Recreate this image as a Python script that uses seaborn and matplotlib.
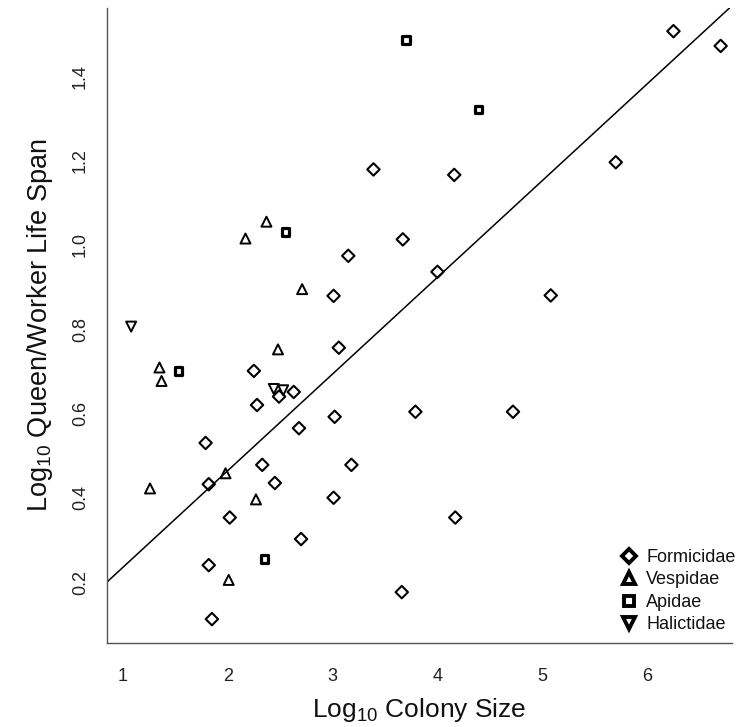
import matplotlib
matplotlib.use("Agg")
import matplotlib.pyplot as plt
from matplotlib.lines import Line2D
import seaborn as sns
import pandas as pd

sns.set_theme(style="white")
plt.rcParams["font.family"] = ["Liberation Sans", "DejaVu Sans"]
plt.rcParams["mathtext.fontset"] = "custom"
plt.rcParams["mathtext.rm"] = "Liberation Sans"
plt.rcParams["mathtext.it"] = "Liberation Sans"

# ---- data ----
formicidae_x = [3.39, 3.67, 3.15, 3.01, 4.16, 4.00, 5.08, 6.25, 6.70, 5.70,
                3.06, 2.25, 2.49, 2.63, 2.28, 3.02, 3.79, 4.72, 2.68, 1.79,
                2.33, 3.18, 2.45, 1.82, 3.01, 2.02, 2.70, 1.82, 3.66, 1.85, 4.17]
formicidae_y = [1.179, 1.013, 0.974, 0.879, 1.166, 0.936, 0.880, 1.507, 1.472, 1.196,
                0.756, 0.701, 0.640, 0.651, 0.620, 0.592, 0.604, 0.604, 0.565, 0.530,
                0.478, 0.478, 0.435, 0.432, 0.400, 0.353, 0.302, 0.240, 0.176, 0.112, 0.353]

vespidae_x = [2.37, 2.17, 2.71, 2.48, 1.35, 1.37, 1.98, 1.26, 2.27, 2.01]
vespidae_y = [1.055, 1.015, 0.895, 0.752, 0.709, 0.677, 0.458, 0.422, 0.396, 0.205]

apidae_x = [3.70, 4.39, 2.55, 1.53, 2.35]
apidae_y = [1.486, 1.321, 1.030, 0.701, 0.255]

halictidae_x = [1.08, 2.44, 2.53]
halictidae_y = [0.806, 0.658, 0.655]

families = ["Formicidae", "Vespidae", "Apidae", "Halictidae"]
fit_intercept = 0.005
fit_slope = 0.2295

x_ticks = [1, 2, 3, 4, 5, 6]
y_ticks = [0.2, 0.4, 0.6, 0.8, 1.0, 1.2, 1.4]

df = pd.concat([
    pd.DataFrame({"size": formicidae_x, "ratio": formicidae_y, "family": "Formicidae"}),
    pd.DataFrame({"size": vespidae_x, "ratio": vespidae_y, "family": "Vespidae"}),
    pd.DataFrame({"size": apidae_x, "ratio": apidae_y, "family": "Apidae"}),
    pd.DataFrame({"size": halictidae_x, "ratio": halictidae_y, "family": "Halictidae"}),
], ignore_index=True)

# ---- styles ----
markers = {"Formicidae": "D", "Vespidae": "^", "Apidae": "s", "Halictidae": "v"}
sizes = {"Formicidae": 40, "Vespidae": 52, "Apidae": 30, "Halictidae": 52}
widths = {"Formicidae": 1.5, "Vespidae": 1.4, "Apidae": 2.3, "Halictidae": 1.4}

W, H = 736, 727
fig = plt.figure(figsize=(W / 100, H / 100), dpi=100)
ax = fig.add_axes([107 / W, 1 - 643 / H, (732 - 107) / W, (643 - 8) / H])

for fam in families:
    sub = df[df["family"] == fam]
    sns.scatterplot(data=sub, x="size", y="ratio", ax=ax, marker=markers[fam],
                    s=sizes[fam], facecolors="none", edgecolors="black",
                    linewidth=widths[fam], legend=False, zorder=3)

ax.axline((0, fit_intercept), slope=fit_slope, color="black", lw=1.1, zorder=2)

ax.set_xlim(0.85, 6.808)
ax.set_ylim(0.0553, 1.562)
ax.set_xticks(x_ticks)
ax.set_xticklabels([str(v) for v in x_ticks])
ax.set_yticks(y_ticks)
ax.set_yticklabels([f"{v:.1f}" for v in y_ticks], rotation=90, va="center")

spine_col = "#555555"
for side in ["top", "right"]:
    ax.spines[side].set_visible(False)
for side in ["left", "bottom"]:
    ax.spines[side].set_color(spine_col)
    ax.spines[side].set_linewidth(1.0)
ax.tick_params(axis="both", which="major", length=7, width=1.0, color=spine_col,
               labelsize=13, labelcolor="#222222", direction="out")
ax.tick_params(axis="x", pad=11)
ax.tick_params(axis="y", pad=6)
ax.grid(False)

ax.set_xlabel(r"Log$_{10}$ Colony Size", fontsize=19, color="#111111", labelpad=8)
ax.set_ylabel(r"Log$_{10}$ Queen/Worker Life Span", fontsize=19.5, color="#111111", labelpad=12)

handles = [Line2D([], [], linestyle="none", marker=markers[f], markersize=ms,
                  markerfacecolor="none", markeredgecolor="black", markeredgewidth=2.8)
           for f, ms in zip(families, [7.5, 8, 6.5, 8])]
leg = ax.legend(handles, families, loc="upper left",
                bbox_to_anchor=(621 / W, 1 - 549 / H), bbox_transform=fig.transFigure,
                frameon=False, fontsize=13, handlelength=0.9, handletextpad=0.5,
                labelspacing=0.3, borderpad=0, borderaxespad=0)
for t in leg.get_texts():
    t.set_color("#111111")

fig.savefig("out.png", dpi=100)
